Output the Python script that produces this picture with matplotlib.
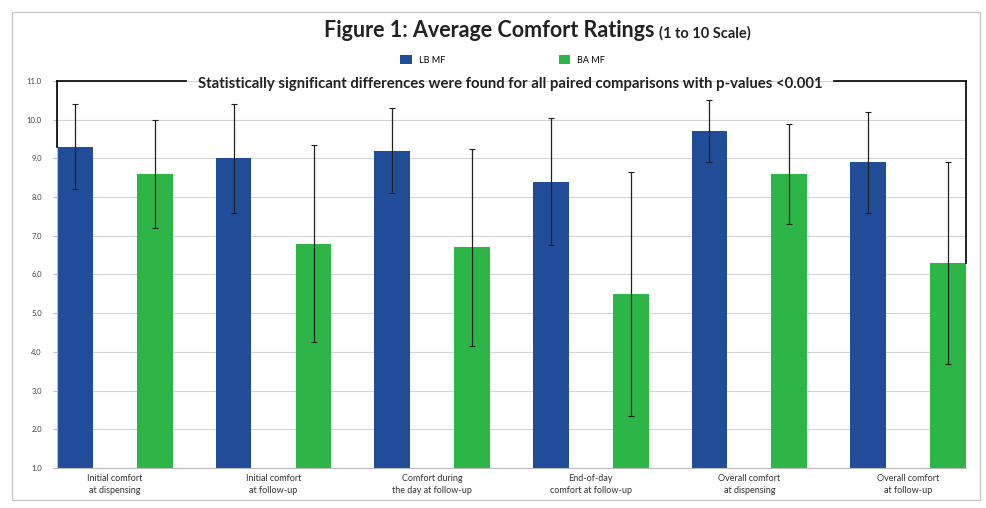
import matplotlib.pyplot as plt
import numpy as np
from matplotlib.patches import Rectangle

categories = [
    "Initial comfort\nat dispensing",
    "Initial comfort\nat follow-up",
    "Comfort during\nthe day at follow-up",
    "End-of-day\ncomfort at follow-up",
    "Overall comfort\nat dispensing",
    "Overall comfort\nat follow-up",
]
lb_mf = [9.3, 9.0, 9.2, 8.4, 9.7, 8.9]
lb_err = [1.1, 1.4, 1.1, 1.65, 0.8, 1.3]
ba_mf = [8.6, 6.8, 6.7, 5.5, 8.6, 6.3]
ba_err = [1.4, 2.55, 2.55, 3.15, 1.3, 2.6]
y_ticks = [1.0, 2.0, 3.0, 4.0, 5.0, 6.0, 7.0, 8.0, 9.0, 10.0, 11.0]

plt.rcParams["font.family"] = ["Lato", "DejaVu Sans"]

BLUE = "#214C98"
GREEN = "#2DB548"

fig = plt.figure(figsize=(9.86, 5.08), dpi=100)
fig.patches.append(Rectangle((0.012, 0.016), 0.982, 0.96, transform=fig.transFigure,
                             fill=False, edgecolor="#c8c8c8", linewidth=1.0))
ax = fig.add_axes([0.0578, 0.0787, 0.9219, 0.7619])

x = np.arange(len(categories))
w = 0.226
off = 0.252
ax.bar(x - off, lb_mf, width=w, bottom=0, color=BLUE, label="LB MF", zorder=2)
ax.bar(x + off, ba_mf, width=w, bottom=0, color=GREEN, label="BA MF", zorder=2)
ax.errorbar(x - off, lb_mf, yerr=lb_err, fmt="none", ecolor="#222222",
            elinewidth=0.9, capsize=2, capthick=0.8, zorder=3)
ax.errorbar(x + off, ba_mf, yerr=ba_err, fmt="none", ecolor="#222222",
            elinewidth=0.9, capsize=2, capthick=0.8, zorder=3)

ax.set_ylim(1.0, 11.0)
ax.set_xlim(-off - w / 2, len(categories) - 1 + off + w / 2)
ax.set_yticks(y_ticks)
ax.set_yticklabels([f"{v:.1f}" for v in y_ticks], fontsize=5.5, color="#444444")
ax.set_xticks(x)
ax.set_xticklabels(categories, fontsize=6.5, color="#333333", linespacing=1.5)
ax.tick_params(axis="y", length=3, color="#bbbbbb", pad=8)
ax.tick_params(axis="x", length=0, pad=4)
ax.grid(axis="y", color="#d4d4d4", linewidth=0.8, zorder=0)
for s in ["top", "right"]:
    ax.spines[s].set_visible(False)
ax.spines["left"].set_color("#bbbbbb")
ax.spines["bottom"].set_color("#bbbbbb")

# significance bracket from first bar to last bar
lx = x[0] - off - w / 2
rx = x[-1] + off + w / 2
ax.plot([lx, 0.45], [11.0, 11.0], color="#111111", lw=1.3, clip_on=False, zorder=4)
ax.plot([4.53, rx], [11.0, 11.0], color="#111111", lw=1.3, clip_on=False, zorder=4)
ax.plot([lx, lx], [11.0, lb_mf[0]], color="#111111", lw=1.3, clip_on=False, zorder=4)
ax.plot([rx, rx], [11.0, ba_mf[-1]], color="#111111", lw=1.3, clip_on=False, zorder=4)
ax.text(2.49, 10.93, "Statistically significant differences were found for all paired comparisons with p-values <0.001",
        ha="center", va="center", fontsize=10.7, fontweight="bold", color="#222222")

fig.text(0.664, 0.94, "Figure 1: Average Comfort Ratings", ha="right", va="center",
         fontsize=15.5, fontweight="bold", color="#222222")
fig.text(0.668, 0.935, "(1 to 10 Scale)", ha="left", va="center",
         fontsize=10.5, fontweight="bold", color="#222222")

fig.legend(loc="center", bbox_to_anchor=(0.51, 0.882), ncol=2, frameon=False,
           fontsize=6.5, handlelength=1.3, handleheight=1.2, columnspacing=12.5)

fig.savefig("out.png", dpi=100)
